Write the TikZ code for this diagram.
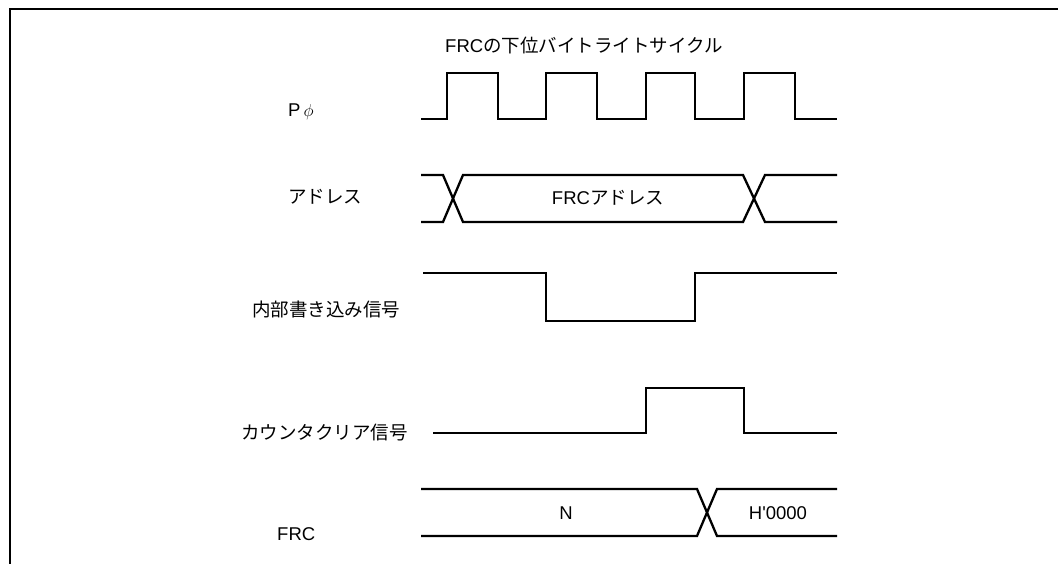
\documentclass[tikz,border=0pt]{standalone}
\usepackage{fontspec}
\setmainfont{Liberation Sans}[Ligatures=TeXOff]
\newfontfamily\jpfont{Noto Sans CJK JP}
\usetikzlibrary{positioning}

\begin{document}
\begin{tikzpicture}[x=1pt,y=-1pt,
  signal/.style={line width=2.3pt,line join=miter},
  frame/.style={line width=2.7pt},
  signame/.style={anchor=west,inner sep=0pt,font=\fontsize{18.5}{20}\selectfont},
  busval/.style={inner sep=0pt,font=\fontsize{18.5}{20}\selectfont},
]
\useasboundingbox (0,0) rectangle (1058,564);

% ==== FRAME ====
\draw[frame] (1060,9) -- (10,9) -- (10,566);

% ==== TITLE ====
\node[signame] (title) at (445,45) {FRC{\jpfont の下位バイトライトサイクル}};

% ==== SIGNAL NAMES ====
\node[signame] (clkname) at (288,112) {P\,$\phi$};
\node[signame] (adrname) at (288,197) {{\jpfont アドレス}};
\node[signame] (wrname) at (252,309) {{\jpfont 内部書き込み信号}};
\node[signame] (clrname) at (241,433) {{\jpfont カウンタクリア信号}};
\node[signame] (frcname) at (277,534) {FRC};

% ==== WAVEFORMS ====
% clock
\draw[signal] (421,119)
  \foreach \rise/\fall in {447/498,546/597,646/695,744/795} {
    -- (\rise,119) -- (\rise,73) -- (\fall,73) -- (\fall,119)
  } -- (837,119);

% address bus
\draw[signal] (421,175) -- (443,175) -- (463,222) -- (743,222) -- (765,175) -- (837,175);
\draw[signal] (421,222) -- (443,222) -- (463,175) -- (743,175) -- (765,222) -- (837,222);
\node[busval] (adrval) at (608,198) {FRC{\jpfont アドレス}};

% internal write strobe
\draw[signal] (423,273) -- (546,273) -- (546,321) -- (695,321) -- (695,273) -- (837,273);

% counter clear
\draw[signal] (433,433) -- (646,433) -- (646,388) -- (744,388) -- (744,433) -- (837,433);

% FRC value
\draw[signal] (421,489) -- (697,489) -- (717,536) -- (837,536);
\draw[signal] (421,536) -- (697,536) -- (717,489) -- (837,489);
\node[busval] (oldval) at (566,513) {N};
\node[busval] (newval) at (778,513) {H'0000};

\end{tikzpicture}
\end{document}
